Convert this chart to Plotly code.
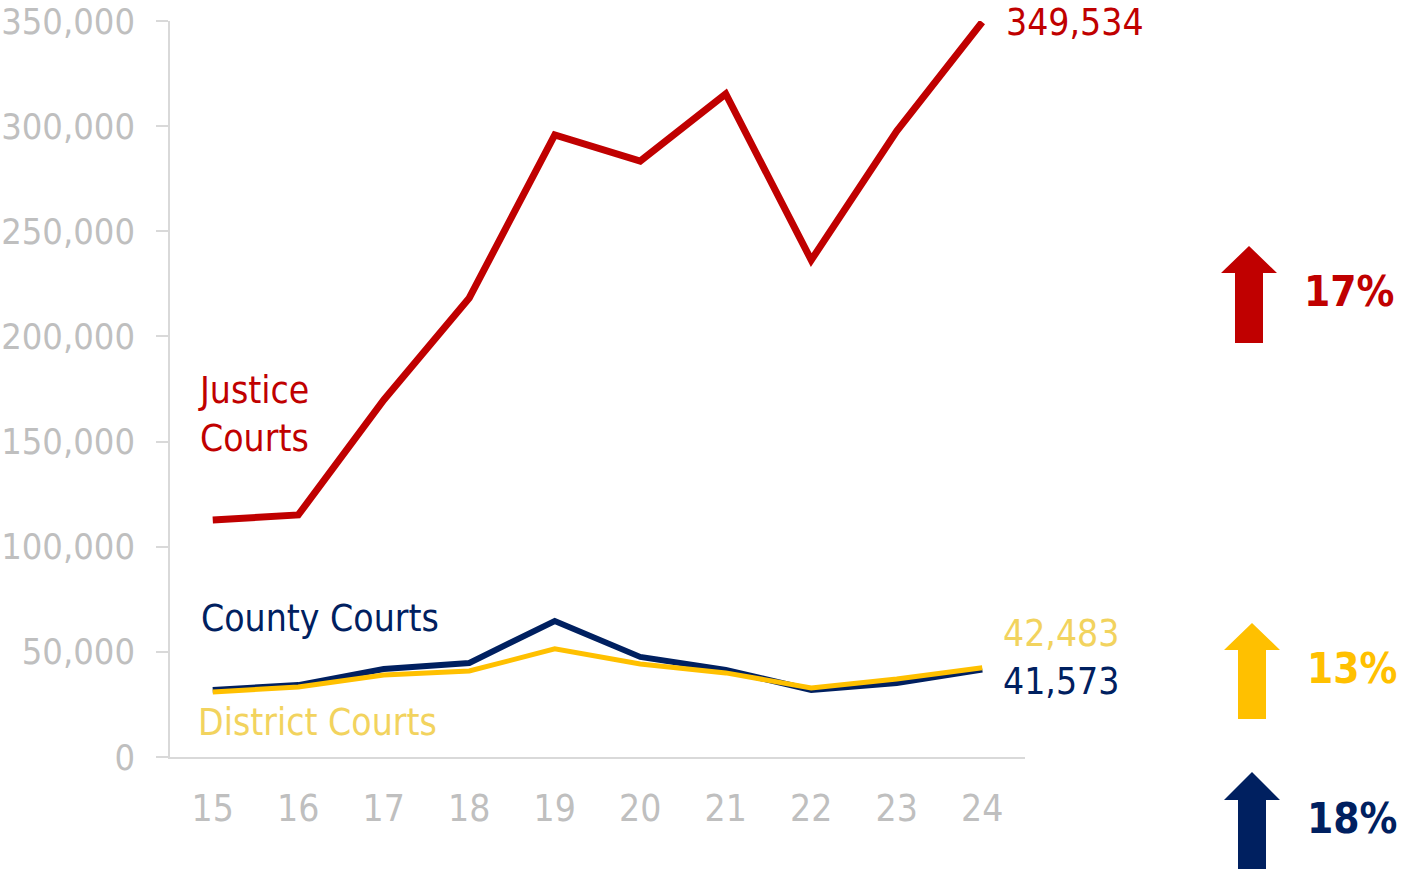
import plotly.graph_objects as go

years = ["15", "16", "17", "18", "19", "20", "21", "22", "23", "24"]
justice = [112700, 115100, 169800, 218300, 295800, 283400, 315300, 236300, 297700, 349534]
county = [31900, 34200, 41800, 44700, 64700, 47600, 41400, 31900, 35200, 41573]
district = [30900, 33300, 39000, 40900, 51400, 44200, 40000, 32800, 37100, 42483]
pct_labels = ["17%", "13%", "18%"]

RED = "#C00000"
NAVY = "#002060"
GOLD = "#FFC000"
LIGHTGOLD = "#F2D35E"
GRAY = "#BFBFBF"
FONT = "DejaVu Sans Condensed, DejaVu Sans, sans-serif"

W, H = 1402, 871
L, R, T, B = 170, 377, 21, 114
PW, PH = W - L - R, H - T - B


def px(x):
    return (x - L) / PW


def py(y):
    return (H - B - y) / PH


fig = go.Figure()
fig.add_trace(go.Scatter(x=years, y=justice, mode="lines", line=dict(color=RED, width=7), hoverinfo="skip"))
fig.add_trace(go.Scatter(x=years, y=county, mode="lines", line=dict(color=NAVY, width=6), hoverinfo="skip"))
fig.add_trace(go.Scatter(x=years, y=district, mode="lines", line=dict(color=GOLD, width=5), hoverinfo="skip"))

last = len(years) - 1
ann = []
# series name labels
ann.append(dict(x=px(196), y=py(414), xref="paper", yref="paper", xanchor="left", yanchor="middle",
                text="Justice<br>Courts", showarrow=False, align="left",
                font=dict(family=FONT, size=37, color=RED)))
ann.append(dict(x=px(199), y=py(618), xref="paper", yref="paper", xanchor="left", yanchor="middle",
                text="County Courts", showarrow=False, font=dict(family=FONT, size=37, color=NAVY)))
ann.append(dict(x=px(196), y=py(722), xref="paper", yref="paper", xanchor="left", yanchor="middle",
                text="District Courts", showarrow=False, font=dict(family=FONT, size=37, color=LIGHTGOLD)))
# end value labels
ann.append(dict(x=last, y=justice[-1], xref="x", yref="y", xanchor="left", yanchor="middle",
                xshift=22, yshift=-1, text=f"{justice[-1]:,}", showarrow=False,
                font=dict(family=FONT, size=37, color=RED)))
ann.append(dict(x=last, y=district[-1], xref="x", yref="y", xanchor="left", yanchor="middle",
                xshift=19, yshift=34, text=f"{district[-1]:,}", showarrow=False,
                font=dict(family=FONT, size=37, color=LIGHTGOLD)))
ann.append(dict(x=last, y=county[-1], xref="x", yref="y", xanchor="left", yanchor="middle",
                xshift=19, yshift=-12, text=f"{county[-1]:,}", showarrow=False,
                font=dict(family=FONT, size=37, color=NAVY)))
# percentage labels
for txt, col, xl, yc in zip(pct_labels, [RED, GOLD, NAVY], [1302, 1305, 1305], [291, 668, 818]):
    ann.append(dict(x=px(xl), y=py(yc), xref="paper", yref="paper", xanchor="left", yanchor="middle",
                    text=f"<b>{txt}</b>", showarrow=False, font=dict(family=FONT, size=42, color=col)))

shapes = []
for col, cx, tip, hb, bot in [(RED, 1249, 246, 273, 343), (GOLD, 1252, 623, 650, 719), (NAVY, 1252, 772, 800, 869)]:
    pts = [(cx, tip), (cx + 28, hb), (cx + 14, hb), (cx + 14, bot), (cx - 14, bot), (cx - 14, hb), (cx - 28, hb)]
    path = "M " + " L ".join(f"{px(a):.5f},{py(b):.5f}" for a, b in pts) + " Z"
    shapes.append(dict(type="path", xref="paper", yref="paper", path=path, fillcolor=col,
                       line=dict(width=0), layer="above"))

fig.update_layout(
    width=W, height=H,
    margin=dict(l=L, r=R, t=T, b=B, pad=0, autoexpand=False),
    paper_bgcolor="white", plot_bgcolor="white",
    showlegend=False,
    annotations=ann, shapes=shapes,
    font=dict(family=FONT),
    xaxis=dict(type="category", range=[-0.5, 9.5], showgrid=False, zeroline=False, automargin=False,
               showline=True, linecolor="#D9D9D9", linewidth=1.5, ticks="",
               tickfont=dict(family=FONT, size=37, color=GRAY), ticklabelstandoff=18),
    yaxis=dict(range=[0, 350000], tickvals=[0, 50000, 100000, 150000, 200000, 250000, 300000, 350000],
               tickformat=",", showgrid=False, zeroline=False, showline=True, linecolor="#D9D9D9",
               automargin=False, linewidth=1.5, ticks="outside", ticklen=12, tickcolor="#D9D9D9",
               tickwidth=1.5, tickfont=dict(family=FONT, size=36, color=GRAY), ticklabelstandoff=14,
               ticklabeloverflow="allow"),
)

fig.write_html("out.html", config={"displayModeBar": False},
               post_script="document.body.style.margin='0';document.body.style.overflow='hidden';")
